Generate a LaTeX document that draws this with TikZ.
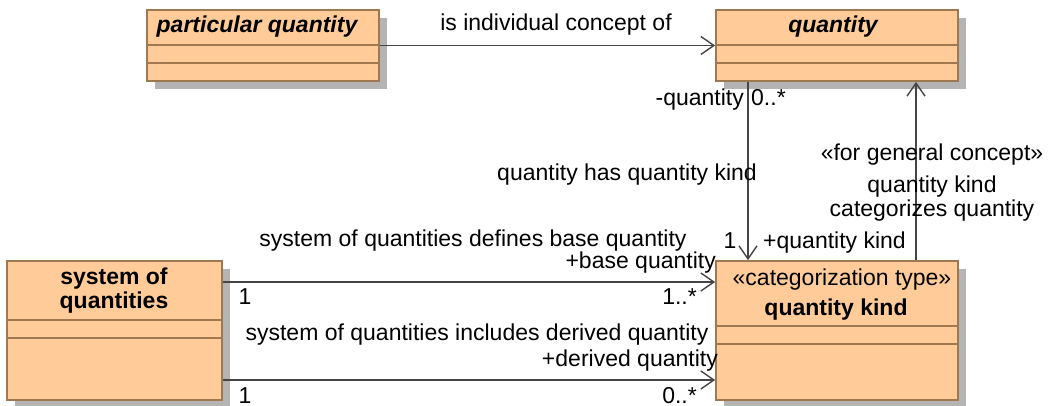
\documentclass[tikz,border=0pt]{standalone}
\usepackage{fontspec}
\setmainfont{Liberation Sans}
\usetikzlibrary{arrows.meta,shadows}
\definecolor{clsfill}{HTML}{FFCC99}
\definecolor{clsline}{HTML}{A07850}
\definecolor{conn}{HTML}{454545}
\definecolor{shade}{HTML}{B4B4B4}
\begin{document}
\begin{tikzpicture}[x=1pt,y=-1pt,font=\fontsize{23}{24}\selectfont,
  cls/.style={draw=clsline, line width=1.8pt, fill=clsfill, inner sep=0pt,
    drop shadow={shadow xshift=8pt, shadow yshift=-8pt, fill=shade, opacity=1}},
  divider/.style={draw=clsline, line width=1.5pt},
  lbl/.style={inner sep=0pt, text height=17pt, text depth=5pt},
  assoc/.style={draw=conn, line width=1.4pt, -{Straight Barb[length=13pt,width=18pt,line width=1.4pt]}}]
\useasboundingbox (0,0) rectangle (1062,406);
% classes
\node[cls, minimum width=232pt, minimum height=71pt] (pq) at (263,45.5) {};
\node[cls, minimum width=242pt, minimum height=71pt] (q) at (837,45.5) {};
\node[cls, minimum width=215pt, minimum height=139pt] (sq) at (114.5,330.5) {};
\node[cls, minimum width=242pt, minimum height=139pt] (qk) at (837,330.5) {};
% dividers
\draw[divider] (pq.west |- 0,45) -- (pq.east |- 0,45) (pq.west |- 0,63) -- (pq.east |- 0,63);
\draw[divider] (q.west |- 0,45) -- (q.east |- 0,45) (q.west |- 0,63) -- (q.east |- 0,63);
\draw[divider] (sq.west |- 0,320) -- (sq.east |- 0,320) (sq.west |- 0,338) -- (sq.east |- 0,338);
\draw[divider] (qk.west |- 0,326) -- (qk.east |- 0,326) (qk.west |- 0,344) -- (qk.east |- 0,344);
% class texts
\node[lbl, font=\fontsize{23}{24}\selectfont\bfseries\itshape] (pqname) at (257,27) {particular quantity};
\node[lbl, font=\fontsize{23}{24}\selectfont\bfseries\itshape] (qname) at (833,27) {quantity};
\node[inner sep=0pt, align=center, font=\fontsize{23}{24}\selectfont\bfseries] (sqname) at (114,291) {system of\\quantities};
\node[lbl] (qkster) at (842,279) {«categorization type»};
\node[lbl, font=\fontsize{23}{24}\selectfont\bfseries] (qkname) at (836,309) {quantity kind};
% connectors
\draw[assoc] (pq.east) -- (q.west);
\draw[assoc] (q.south -| 748,0) -- (qk.north -| 748,0);
\draw[assoc] (qk.north -| 916,0) -- (q.south -| 916,0);
\draw[assoc] (sq.east |- 0,282) -- (qk.west |- 0,282);
\draw[assoc] (sq.east |- 0,380) -- (qk.west |- 0,380);
% connector labels
\node[lbl] (l1) at (556,25) {is individual concept of};
\node[lbl, anchor=east] (l2a) at (744,100) {-quantity};
\node[lbl, anchor=west] (l2b) at (751,100) {0..*};
\node[lbl] (l2c) at (627,175) {quantity has quantity kind};
\node[lbl] (l2d) at (730,242) {1};
\node[lbl, anchor=west] (l2e) at (763,242) {+quantity kind};
\node[lbl] (l3a) at (932,155) {«for general concept»};
\node[inner sep=0pt, align=center] (l3b) at (932,199) {quantity kind\\categorizes quantity};
\node[lbl] (l4a) at (473,240) {system of quantities defines base quantity};
\node[lbl, anchor=east] (l4b) at (716,262) {+base quantity};
\node[lbl] (l4c) at (245,298) {1};
\node[lbl, anchor=east] (l4d) at (697,298) {1..*};
\node[lbl] (l5a) at (477,334) {system of quantities includes derived quantity};
\node[lbl, anchor=east] (l5b) at (718,360) {+derived quantity};
\node[lbl] (l5c) at (245,397) {1};
\node[lbl, anchor=east] (l5d) at (697,397) {0..*};
\end{tikzpicture}
\end{document}
